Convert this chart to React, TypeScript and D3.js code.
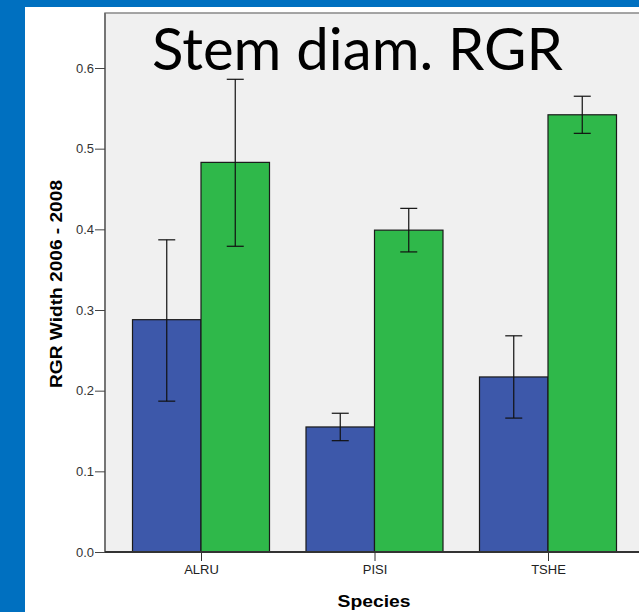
import React, { useEffect, useRef } from 'react';
import * as d3 from 'd3';

const species = ['ALRU', 'PISI', 'TSHE'];
const groups = ['blue', 'green'];
const meanBlue = [0.288, 0.155, 0.217];
const lowBlue = [0.187, 0.138, 0.166];
const highBlue = [0.387, 0.172, 0.268];
const meanGreen = [0.483, 0.399, 0.542];
const lowGreen = [0.379, 0.372, 0.519];
const highGreen = [0.586, 0.426, 0.565];
const yTicks = [0, 0.1, 0.2, 0.3, 0.4, 0.5, 0.6];

const W = 639, H = 612;

function App() {
  const ref = useRef<SVGSVGElement>(null);

  function drawChart() {
    const svg = d3.select(ref.current);
    svg.selectAll('*').remove();

    // blue slide frame
    svg.append('rect').attr('width', W).attr('height', H).attr('fill', '#0070c0');
    svg.append('rect').attr('x', 25).attr('y', 7).attr('width', W - 25).attr('height', H - 7).attr('fill', '#ffffff');

    const left = 105, top = 13, bottom = 552, right = 645;

    svg.append('rect')
      .attr('x', left).attr('y', top)
      .attr('width', right - left).attr('height', bottom - top)
      .attr('fill', '#f0f0f0')
      .attr('stroke', '#888').attr('stroke-width', 1.5);

    const y = d3.scaleLinear().domain([0, 0.6]).range([bottom, 68]);
    const x = d3.scalePoint<string>().domain(species).range([201, 548]);
    const sub = d3.scaleBand<string>().domain(groups).range([-68.5, 68.5]);

    const rows = species.map((s, i) => [
      { s, g: 'blue', m: meanBlue[i], lo: lowBlue[i], hi: highBlue[i], c: '#3d58aa' },
      { s, g: 'green', m: meanGreen[i], lo: lowGreen[i], hi: highGreen[i], c: '#2fb84a' },
    ]).flat();

    svg.append('g')
      .selectAll('rect')
      .data(rows)
      .join('rect')
      .attr('x', d => (x(d.s) as number) + (sub(d.g) as number))
      .attr('y', d => y(d.m))
      .attr('width', sub.bandwidth())
      .attr('height', d => y(0) - y(d.m))
      .attr('fill', d => d.c)
      .attr('stroke', '#1a1a1a')
      .attr('stroke-width', 1.2);

    // error bars
    const eb = svg.append('g').attr('stroke', '#111').attr('stroke-width', 1.2);
    rows.forEach(d => {
      const cx = (x(d.s) as number) + (sub(d.g) as number) + sub.bandwidth() / 2;
      eb.append('line').attr('x1', cx).attr('x2', cx).attr('y1', y(d.lo)).attr('y2', y(d.hi));
      eb.append('line').attr('x1', cx - 8.5).attr('x2', cx + 8.5).attr('y1', y(d.lo)).attr('y2', y(d.lo));
      eb.append('line').attr('x1', cx - 8.5).attr('x2', cx + 8.5).attr('y1', y(d.hi)).attr('y2', y(d.hi));
    });

    // y axis
    const yAxis = svg.append('g')
      .attr('transform', `translate(${left},0)`)
      .call(d3.axisLeft(y).tickValues(yTicks).tickFormat(d3.format('.1f')).tickSize(10).tickPadding(1));
    yAxis.select('.domain').attr('stroke', '#666').attr('stroke-width', 1.5).attr('d', `M0,${top}V${bottom}`);
    yAxis.selectAll('line').attr('stroke', '#444');
    yAxis.selectAll('text').attr('font-family', 'Liberation Sans, Arial, sans-serif').attr('font-size', 13).attr('fill', '#333');

    // x axis
    svg.append('line').attr('x1', left).attr('x2', W).attr('y1', bottom).attr('y2', bottom)
      .attr('stroke', '#333').attr('stroke-width', 2);
    const xAxis = svg.append('g')
      .attr('transform', `translate(0,${bottom})`)
      .call(d3.axisBottom(x).tickSize(9).tickPadding(4));
    xAxis.select('.domain').remove();
    xAxis.selectAll('line').attr('stroke', '#333');
    xAxis.selectAll('text').attr('font-family', 'Liberation Sans, Arial, sans-serif').attr('font-size', 13).attr('fill', '#222');

    // axis titles
    svg.append('text')
      .attr('transform', `translate(62,284) rotate(-90)`)
      .attr('text-anchor', 'middle')
      .attr('font-family', 'Liberation Sans, Arial, sans-serif')
      .attr('font-weight', 'bold').attr('font-size', 16)
      .attr('textLength', 208)
      .attr('lengthAdjust', 'spacingAndGlyphs')
      .text('RGR Width 2006 - 2008');

    svg.append('text')
      .attr('x', 374).attr('y', 607)
      .attr('text-anchor', 'middle')
      .attr('font-family', 'Liberation Sans, Arial, sans-serif')
      .attr('font-weight', 'bold').attr('font-size', 17)
      .attr('textLength', 73)
      .attr('lengthAdjust', 'spacingAndGlyphs')
      .text('Species');

    // title
    svg.append('text')
      .attr('x', 152).attr('y', 70)
      .attr('font-family', 'Lato, Open Sans, sans-serif')
      .attr('font-size', 58)
      .attr('textLength', 411)
      .attr('lengthAdjust', 'spacingAndGlyphs')
      .attr('fill', '#000')
      .text('Stem diam. RGR');
  }

  useEffect(() => {
    drawChart();
  }, []);

  return (
    <svg ref={ref} width={W} height={H} style={{ position: 'absolute', left: 0, top: 0 }} />
  );
}

export default App;
